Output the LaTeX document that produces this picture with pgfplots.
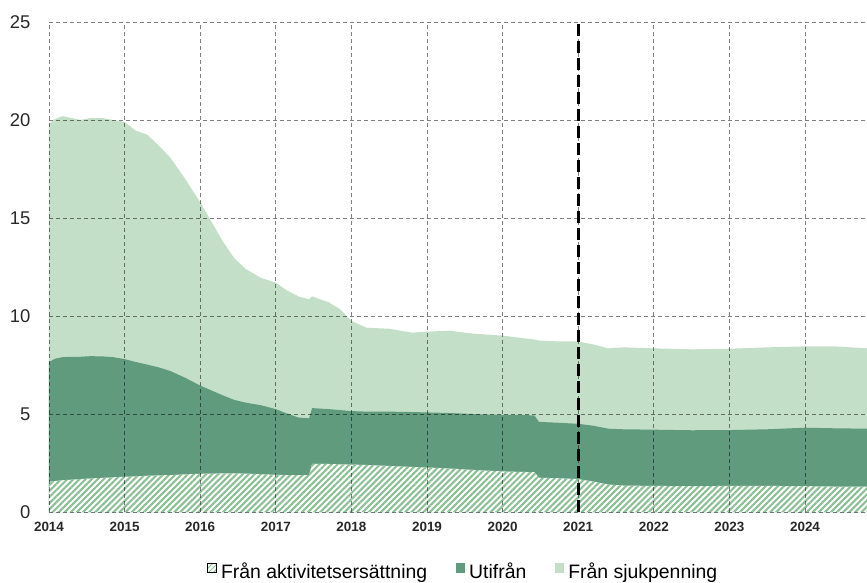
\documentclass[border=0pt]{standalone}
\usepackage{pgfplots}
\pgfplotsset{compat=1.18}
\usepackage{pgfplotstable}
\usepackage{fontspec}
\setmainfont{Liberation Sans}
\usetikzlibrary{patterns.meta}
\definecolor{lightg}{RGB}{195,223,199}
\definecolor{darkg}{RGB}{96,155,126}
\definecolor{hatchg}{RGB}{138,192,148}
\definecolor{tickc}{RGB}{40,40,40}

\pgfplotstableread{
x a m t
2014.00 1.55 7.65 19.8
2014.08 1.58 7.82 20.05
2014.18 1.62 7.90 20.2
2014.30 1.65 7.92 20.1
2014.42 1.68 7.92 20.0
2014.55 1.71 7.95 20.1
2014.70 1.74 7.94 20.1
2014.85 1.77 7.90 20.0
2015.00 1.80 7.80 19.9
2015.15 1.82 7.65 19.45
2015.30 1.85 7.52 19.25
2015.45 1.87 7.38 18.7
2015.60 1.88 7.20 18.1
2015.80 1.92 6.85 17.0
2016.00 1.95 6.45 15.8
2016.15 1.96 6.20 14.8
2016.30 1.97 5.95 13.8
2016.45 1.97 5.72 12.95
2016.60 1.96 5.58 12.4
2016.80 1.93 5.45 11.95
2017.00 1.90 5.25 11.7
2017.15 1.88 5.02 11.3
2017.30 1.88 4.82 11.0
2017.44 1.88 4.78 10.85
2017.48 2.45 5.30 11.0
2017.70 2.45 5.25 10.7
2017.85 2.43 5.20 10.35
2018.00 2.42 5.15 9.75
2018.20 2.40 5.12 9.4
2018.50 2.35 5.12 9.35
2018.80 2.30 5.10 9.15
2019.00 2.27 5.08 9.2
2019.30 2.22 5.05 9.25
2019.60 2.15 5.00 9.1
2020.00 2.07 4.95 9.0
2020.20 2.05 4.95 8.9
2020.42 2.03 4.93 8.8
2020.48 1.75 4.60 8.75
2020.75 1.72 4.55 8.7
2021.00 1.68 4.50 8.7
2021.20 1.55 4.40 8.55
2021.40 1.40 4.25 8.35
2021.60 1.35 4.22 8.4
2022.00 1.33 4.20 8.35
2022.50 1.32 4.17 8.3
2023.00 1.33 4.18 8.33
2023.50 1.33 4.22 8.4
2024.00 1.32 4.30 8.45
2024.40 1.30 4.27 8.45
2024.82 1.30 4.25 8.35
}\data

\begin{document}
\begin{tikzpicture}
\path[use as bounding box] (-49bp,-71bp) rectangle (818bp,512bp);
\begin{axis}[
  at={(0,0)}, anchor=south west, scale only axis,
  width=818bp, height=490bp,
  xmin=2014, xmax=2024.82, ymin=0, ymax=25,
  xtick={2014,2015,...,2024}, ytick={0,5,...,25},
  axis line style={draw=none}, major tick length=0pt,
  grid=major,
  major grid style={black, opacity=0.5, line width=0.8bp, dash pattern=on 4bp off 3bp},
  axis on top,
  /pgf/number format/1000 sep={}, /pgf/number format/assume math mode=true,
  xticklabel style={font=\fontsize{13.5}{16}\selectfont\bfseries, text=tickc, yshift=-7bp},
  yticklabel style={font=\fontsize{18.5}{22}\selectfont, text=tickc, xshift=-15bp},
  legend columns=-1,
  legend style={at={(0.506,-0.1204)}, anchor=center, draw=none, fill=none,
    font=\fontsize{19.5}{23}\selectfont,
    /tikz/every odd column/.append style={column sep=3bp},
    /tikz/every even column/.append style={column sep=27bp},
    nodes={inner sep=1.5bp}},
]
\addlegendimage{legend image code/.code={\path[pattern color=hatchg, pattern={Lines[angle=45,distance=3.5bp,line width=1bp]}] (0bp,-1bp) rectangle (8.5bp,7.5bp);}}
\addlegendentry{Från aktivitetsersättning}
\addlegendimage{legend image code/.code={\fill[darkg] (0bp,-1bp) rectangle (8.5bp,7.5bp);}}
\addlegendentry{Utifrån}
\addlegendimage{legend image code/.code={\fill[lightg] (0bp,-1bp) rectangle (8.5bp,7.5bp);}}
\addlegendentry{Från sjukpenning}

\addplot[draw=none, fill=lightg, forget plot] table[x=x, y=t] {\data} \closedcycle;
\addplot[draw=none, fill=darkg, forget plot] table[x=x, y=m] {\data} \closedcycle;
\addplot[draw=none, fill=white, forget plot,
  postaction={pattern color=hatchg, pattern={Lines[angle=45,distance=4.3bp,line width=2.1bp]}}]
  table[x=x, y=a] {\data} \closedcycle;
\addplot[black, line width=3bp, dash pattern=on 12bp off 5bp, forget plot] coordinates {(2021,0) (2021,25)};
\end{axis}
\end{tikzpicture}
\end{document}
